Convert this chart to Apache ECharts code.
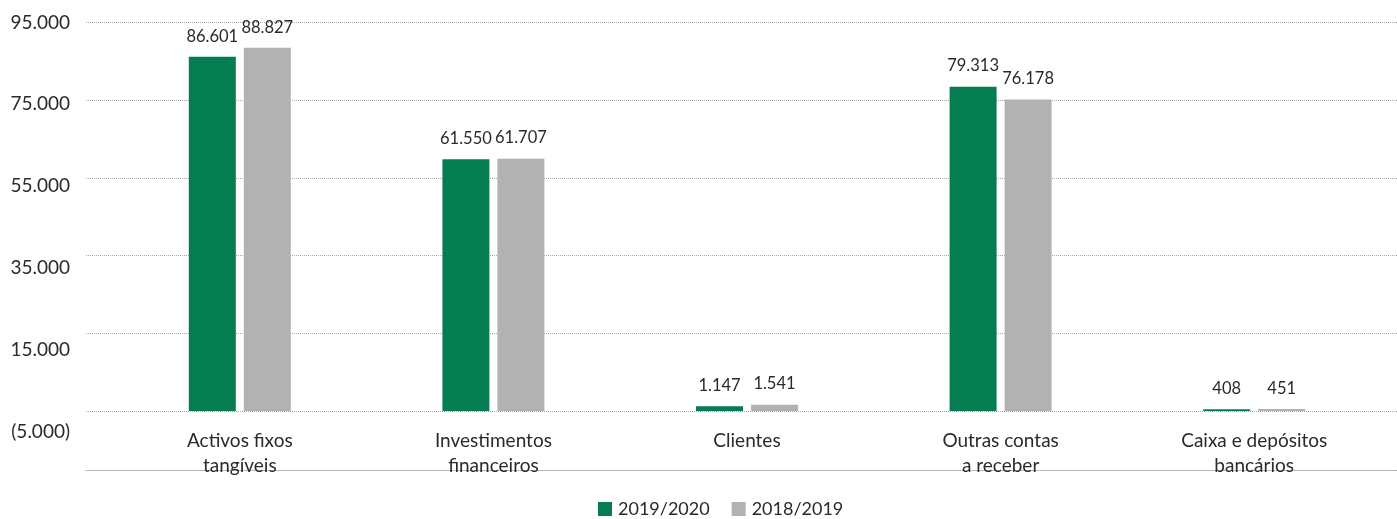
<!DOCTYPE html>
<html><head><meta charset="utf-8">
<script src="https://cdn.jsdelivr.net/npm/echarts@6/dist/echarts.min.js"></script>
<style>html,body{margin:0;padding:0;background:#fff}#c{width:1397px;height:519px}</style>
</head><body><div id="c"></div>
<script>
const categories = ['Activos fixos\ntangíveis', 'Investimentos\nfinanceiros', 'Clientes', 'Outras contas\na receber', 'Caixa e depósitos\nbancários'];
const series2020 = [86601, 61550, 1147, 79313, 408];
const series2019 = [88827, 61707, 1541, 76178, 451];
const seriesNames = ['2019/2020', '2018/2019'];
const yMin = -5000, yMax = 95000, yStep = 20000;

const FONT = 'Lato';
const TXT = '#2a2a2a';
const GRIDC = '#a8a8a8';
const fmt = v => {
  const s = Math.abs(v).toString().replace(/\B(?=(\d{3})+(?!\d))/g, '.');
  return v < 0 ? '(' + s + ')' : s;
};
const chart = echarts.init(document.getElementById('c'), null, {renderer: 'canvas'});
const grid0 = {left: 86, right: 0, top: 22.5, bottom: 49};
const grid1 = {left: 113, right: 16, top: 22.5, bottom: 87.6};
chart.setOption({
  animation: false,
  textStyle: {fontFamily: FONT, color: TXT},
  grid: [grid0, grid1],
  legend: {
    left: 598, bottom: 1, padding: 0, itemWidth: 14, itemHeight: 14, itemGap: 22, icon: 'rect',
    textStyle: {fontFamily: FONT, fontSize: 18, color: TXT, padding: [0, 0, 0, 1]},
    data: seriesNames
  },
  xAxis: [
    {gridIndex: 0, type: 'value', min: 0, max: 1, show: true,
     axisLine: {show: true, onZero: false, lineStyle: {color: GRIDC, type: [1, 1], width: 1}},
     axisTick: {show: false}, axisLabel: {show: false}, splitLine: {show: false}},
    {gridIndex: 1, type: 'category', data: categories,
     axisLine: {show: false, onZero: false}, axisTick: {show: false},
     axisLabel: {fontFamily: FONT, fontSize: 19, color: TXT, margin: -3, lineHeight: 25, interval: 0}}
  ],
  yAxis: [
    {gridIndex: 0, type: 'value', inverse: true, min: 0, max: 5.759, interval: 1,
     axisLine: {show: false}, axisTick: {show: false}, axisLabel: {show: false},
     splitLine: {show: true, lineStyle: {color: GRIDC, type: [1, 1], width: 1}}},
    {gridIndex: 1, type: 'value', min: yMin, max: yMax, interval: yStep,
     axisLine: {show: false}, axisTick: {show: false}, splitLine: {show: false},
     axisLabel: {fontFamily: FONT, fontSize: 19, color: TXT, margin: 43, formatter: fmt}}
  ],
  series: [
    {name: seriesNames[0], type: 'bar', xAxisIndex: 1, yAxisIndex: 1, data: series2020,
     barWidth: 47, barGap: '17%', itemStyle: {color: '#047D51'},
     label: {show: true, position: 'top', distance: 12, fontFamily: FONT, fontSize: 16.5, color: TXT, formatter: p => fmt(p.value)}},
    {name: seriesNames[1], type: 'bar', xAxisIndex: 1, yAxisIndex: 1, data: series2019,
     barWidth: 47, barGap: '17%', itemStyle: {color: '#B2B2B2'},
     label: {show: true, position: 'top', distance: 12, fontFamily: FONT, fontSize: 16.5, color: TXT, formatter: p => fmt(p.value)}}
  ]
});
</script></body></html>
